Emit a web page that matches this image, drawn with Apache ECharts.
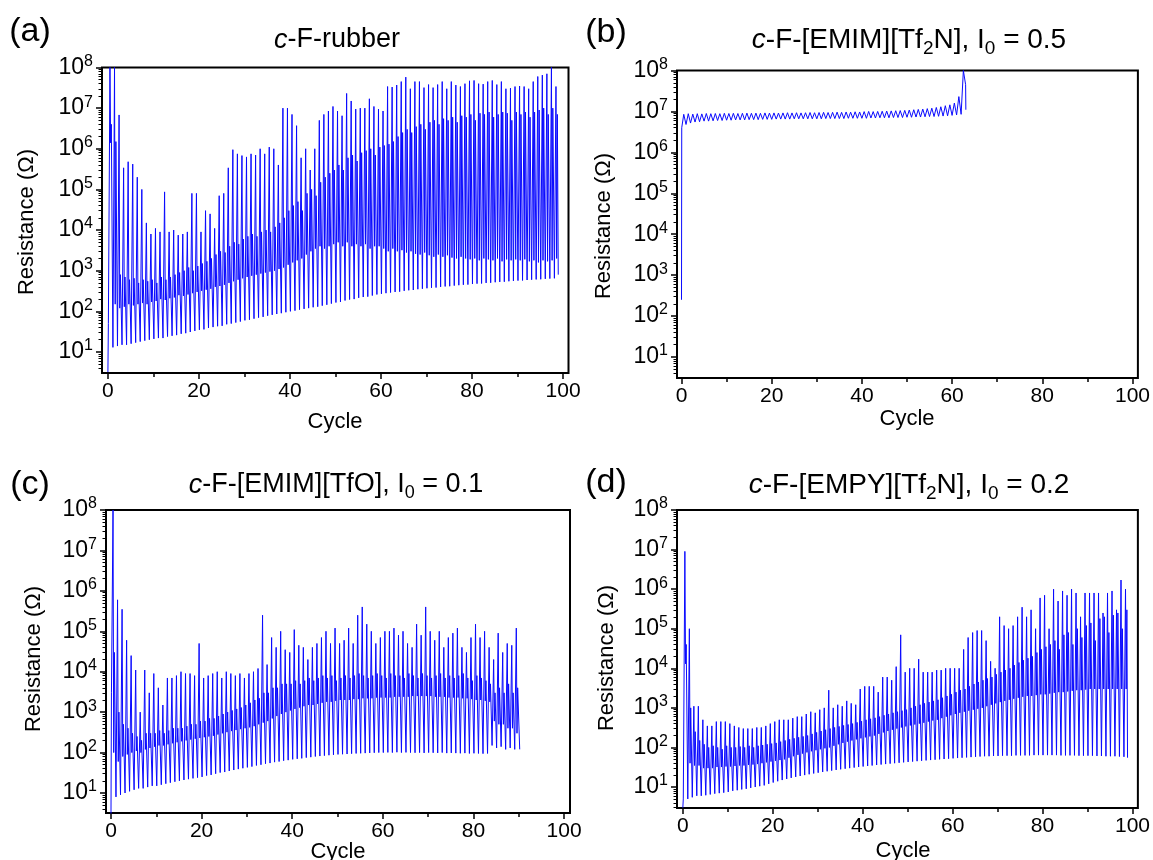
<!DOCTYPE html>
<html><head><meta charset="utf-8">
<script src="https://cdn.jsdelivr.net/npm/echarts@6/dist/echarts.min.js"></script>
<style>html,body{margin:0;padding:0;background:#fff}#c{width:1153px;height:860px}</style>
</head><body><div id="c"></div>
<script>
// ---------- tick labels ----------
const xTicks = [0, 20, 40, 60, 80, 100];
const xMinorTicks = [10, 30, 50, 70, 90];
const yTicks = [1e1, 1e2, 1e3, 1e4, 1e5, 1e6, 1e7, 1e8];

// ---------- panel (a) c-F-rubber : per-cycle values (Ohm) ----------
const aStart = [[0.0, 3.2]];
const aTrough = [50,13,14,15,15,16,17,18,19,20,
 21,22,22,24,25,26,28,29,31,33,
 35,36,39,41,43,44,48,50,53,56,
 60,62,66,70,73,78,82,86,90,95,
 100,104,110,115,120,126,130,138,145,155,
 165,170,185,195,200,215,225,230,245,260,
 270,280,290,300,305,320,330,335,350,360,
 370,380,385,400,410,415,430,440,450,455,
 470,480,485,500,505,520,530,535,550,560,
 570,575,590,600,610,615,630,640,650];
const aPeak = [1e8,1e8,6.8e6,3.4e5,4.8e5,4.2e5,2e5,1e5,1.5e4,8e3,
 1.1e4,9e3,8.7e4,9e3,1e4,7.5e3,8e3,9e3,8e4,8e4,
 9e3,3e4,2.5e4,1.1e4,7e4,8e4,3.4e5,9.5e5,7.5e5,6.8e5,
 6.3e5,7.5e5,7e5,1e6,7.5e5,1.1e6,1e6,4e5,1e7,1e7,
 7e6,3.7e6,6e5,1e6,3e5,1e6,5e6,7e6,8.5e6,1.1e7,
 8.5e6,6.5e6,2.3e7,1.5e7,9.5e6,1e7,1e7,1.7e7,1.1e7,9.5e6,
 8.5e6,3.4e7,3.3e7,3.7e7,4.5e7,5.8e7,3e7,4.5e7,4.5e7,3.2e7,
 3.8e7,3.2e7,3.8e7,4.5e7,3e7,4.5e7,3.7e7,3.4e7,4e7,4.7e7,
 4.8e7,4e7,3.9e7,4.5e7,4.8e7,3.8e7,4.5e7,3e7,3.1e7,3.4e7,
 3.5e7,3.4e7,3e7,4.5e7,6e7,6.5e7,7e7,1e8,3.4e7];
const aValley = [1.4e6,150,120,130,150,140,150,160,150,170,
 180,200,190,210,220,250,240,260,280,300,
 320,340,360,400,420,450,500,550,600,650,
 700,750,800,850,900,950,1e3,1.1e3,1.2e3,1.4e3,
 1.6e3,1.8e3,2e3,2.5e3,3e3,3.5e3,4e3,3.5e3,4e3,4.5e3,
 5e3,4e3,5e3,4e3,4.5e3,4e3,4.5e3,3.5e3,4e3,4e3,
 3.5e3,3e3,3.5e3,3e3,3.2e3,2.8e3,3e3,2.6e3,2.5e3,2.8e3,
 2.4e3,2.2e3,2.5e3,2.2e3,2.4e3,2.1e3,2e3,2.2e3,2e3,1.9e3,
 2e3,1.8e3,2e3,1.9e3,1.8e3,2e3,1.7e3,1.9e3,1.8e3,1.9e3,
 1.8e3,1.9e3,1.7e3,1.8e3,1.6e3,1.8e3,1.7e3,1.8e3,2e3];
const aShoulder = [4e6,1.5e6,800,700,600,650,500,600,550,600,
 500,700,600,700,800,900,1e3,1.2e3,1e3,1.3e3,
 1.5e3,1.7e3,2e3,2.5e3,3e3,2.8e3,4e3,5e3,4.5e3,6e3,
 7e3,8e3,7e3,9e3,1e4,9e3,1.2e4,1.5e4,2e4,3e4,
 4e4,5e4,3e4,8e4,1e5,7e4,1.5e5,2e5,2.5e5,3e5,
 4e5,3e5,6e5,7e5,5e5,8e5,9e5,1e6,7e5,1.1e6,
 1.2e6,1.3e6,1.5e6,2e6,2.5e6,3e6,2.5e6,3.5e6,4e6,3e6,
 4.5e6,5e6,4e6,5.5e6,5e6,6e6,4.5e6,6.5e6,6e6,7e6,
 5e6,7.5e6,7e6,8e6,6e6,7e6,8e6,7.5e6,5e6,8e6,
 7e6,8e6,6e6,8e6,9e6,1e7,7e6,1e7,7e6];
const aEnd = [[98.95, 800]];

// ---------- panel (b) c-F-[EMIM][Tf2N], I0 = 0.5 ----------
const bStart = [[0.0, 250], [0.05, 4e6]];
const bPeak = [8.5e6,8.8e6,8.6e6,8.8e6,8.7e6,8.9e6,8.8e6,8.9e6,8.8e6,9e6,
 8.9e6,9e6,8.9e6,9e6,9.1e6,9e6,9.1e6,9e6,9.2e6,9.1e6,
 9.2e6,9.1e6,9.2e6,9.3e6,9.2e6,9.3e6,9.2e6,9.3e6,9.4e6,9.3e6,
 9.4e6,9.5e6,9.4e6,9.5e6,9.6e6,9.5e6,9.7e6,9.6e6,9.8e6,9.7e6,
 9.9e6,1e7,9.9e6,1e7,1.01e7,1.02e7,1.03e7,1.04e7,1.05e7,1.06e7,
 1.08e7,1.1e7,1.12e7,1.14e7,1.17e7,1.2e7,1.25e7,1.3e7,1.38e7,1.45e7,
 1.6e7,2.3e7,1e8];
const bTrough = [4.8e6,5.2e6,5.5e6,5.6e6,5.8e6,5.8e6,5.9e6,6e6,6e6,6.1e6,
 6.1e6,6.2e6,6.2e6,6.2e6,6.3e6,6.3e6,6.3e6,6.4e6,6.4e6,6.4e6,
 6.5e6,6.5e6,6.5e6,6.5e6,6.6e6,6.6e6,6.6e6,6.6e6,6.6e6,6.6e6,
 6.6e6,6.7e6,6.7e6,6.7e6,6.7e6,6.7e6,6.8e6,6.8e6,6.8e6,6.8e6,
 6.8e6,6.9e6,6.9e6,7e6,7e6,7e6,7.1e6,7.1e6,7.1e6,7.2e6,
 7.2e6,7.3e6,7.3e6,7.4e6,7.5e6,7.5e6,7.6e6,7.7e6,7.8e6,8e6,
 8.2e6,8.5e6,4.5e7];
const bEnd = [[63.05, 1.1e7]];

// ---------- panel (c) c-F-[EMIM][TfO], I0 = 0.1 ----------
const cStart = [[0.0, 3]];
const cTrough = [3e3,8,9,10,11,12,13,13,14,15,
 15,16,17,18,19,20,21,22,23,24,
 25,27,28,30,32,33,35,37,39,41,
 43,45,48,50,53,55,58,60,63,65,
 68,70,72,75,77,80,82,84,86,88,
 90,91,92,94,95,96,97,98,99,100,
 100,101,100,102,100,101,100,99,100,98,
 100,99,98,100,97,98,97,96,97,95,
 96,95,94,95,150,130,140,120,130,120];
const cPeak = [1e8,6e5,3.5e5,6e4,2.5e4,1.1e4,1e3,1.1e4,3e3,9e3,
 4e3,1.5e3,7e3,7e3,8e3,1e4,9e3,9e3,8e3,5e4,
 7e3,8e3,9e3,1e4,7e3,1e4,9e3,8e3,9e3,7e3,
 9e3,1e4,1.2e4,2.5e5,1.5e4,7e4,4e4,1e5,3.5e4,3e4,
 1.1e5,4.5e4,4e4,2e4,4e4,5e4,7e4,1e5,5e4,1.2e5,
 5e4,6e4,1.2e5,5e4,2.5e5,4e5,1.5e5,1e5,5e4,7e4,
 1e5,1e5,1.2e5,8e4,1e5,5e4,4e4,1.5e5,8e4,4e5,
 1e5,6e4,1e5,4e4,7e4,9e4,1.2e5,4e4,3e4,7e4,
 1.5e5,7e4,1e5,4e4,2e4,9e4,3e4,5e4,4.5e4,1.2e5];
const cValley = [100,60,80,90,100,110,100,120,130,140,
 150,150,160,170,180,190,200,210,220,230,
 240,250,260,280,300,320,340,360,380,400,
 420,450,500,550,600,700,800,900,1e3,1.1e3,
 1.2e3,1.3e3,1.4e3,1.5e3,1.5e3,1.6e3,1.7e3,1.8e3,1.8e3,1.9e3,
 2e3,2e3,2e3,2.1e3,2.1e3,2.2e3,2.2e3,2.2e3,2.3e3,2.3e3,
 2.3e3,2.3e3,2.4e3,2.4e3,2.4e3,2.4e3,2.5e3,2.5e3,2.5e3,2.5e3,
 2.5e3,2.4e3,2.4e3,2.4e3,2.3e3,2.3e3,2.3e3,2.2e3,2.2e3,2.1e3,
 2e3,2e3,1.9e3,1.8e3,600,500,500,400,400,300];
const cShoulder = [3e4,1e3,500,400,300,250,200,300,300,300,
 350,300,350,400,400,400,450,500,500,600,
 600,700,700,800,900,1e3,1.1e3,1.2e3,1.3e3,1.5e3,
 1.7e3,2e3,2.2e3,3e3,3e3,4e3,4e3,5e3,5e3,5e3,
 6e3,5e3,6e3,7e3,6e3,7e3,8e3,7e3,8e3,6e3,
 7e3,8e3,7e3,8e3,9e3,8e3,7e3,8e3,9e3,8e3,
 7e3,9e3,8e3,8e3,7e3,9e3,8e3,7e3,9e3,8e3,
 7e3,8e3,9e3,7e3,8e3,7e3,8e3,9e3,7e3,6e3,
 8e3,7e3,6e3,5e3,3e3,4e3,3e3,5e3,3e3,4e3];
const cEnd = [[90.2, 120]];

// ---------- panel (d) c-F-[EMPY][Tf2N], I0 = 0.2 ----------
const dStart = [[0.0, 3]];
const dTrough = [5,5,5.5,6,6,6.2,6.5,6.8,7,7.2,
 7.5,8,8.3,8.7,9,9.5,10,10.5,11,12,
 13,14,15,16,17,18,19,20,21,22,
 23,24,25,26,27,28,29,30,31,32,
 33,34,35,36,37,38,39,40,41,42,
 43,44,45,46,47,48,49,50,51,52,
 53,54,55,56,57,58,59,60,60,61,
 61,62,62,62,63,63,63,63,64,64,
 64,64,64,64,63,63,63,63,62,62,
 62,62,61,61,60,60,60,59,58];
const dPeak = [9e6,1e5,1.1e3,1.1e3,500,350,350,450,450,450,
 400,350,320,300,300,300,320,320,350,400,
 450,500,500,500,550,600,600,700,800,750,
 900,1e3,2.8e3,1e3,1.2e3,1.1e3,1.5e3,1.3e3,1.2e3,3e3,
 3.5e3,3.5e3,3.5e3,2.5e3,6e3,6e3,5e3,1.1e4,7e4,8e3,
 1e4,1e4,1.7e4,8e3,8e3,8e3,9e3,9e3,1e4,1e4,
 1e4,1e4,3e4,6e4,8e4,9e4,9e4,5e4,1.5e4,1e4,
 2e5,1.2e5,1e5,1.2e5,2e5,3.5e5,2e5,3e5,1e5,6e5,
 7e5,1e5,1e6,5e5,9e5,7e5,1e6,8e5,2e5,8e5,
 8e5,8e5,8e5,2.5e5,8e5,9e5,3e5,1.7e6,1e6];
const dValley = [1.3e4,40,35,35,30,30,30,32,32,33,
 33,34,35,35,36,37,38,40,42,44,
 46,48,50,55,60,65,70,75,80,85,
 90,95,100,110,120,130,140,150,160,170,
 180,190,200,220,240,260,280,300,320,340,
 360,380,400,420,450,480,500,550,600,650,
 700,750,800,850,900,950,1e3,1.1e3,1.2e3,1.3e3,
 1.4e3,1.5e3,1.6e3,1.7e3,1.8e3,1.9e3,2e3,2e3,2.1e3,2.2e3,
 2.2e3,2.3e3,2.4e3,2.5e3,2.5e3,2.6e3,2.7e3,2.8e3,2.8e3,2.9e3,
 3e3,3e3,3e3,3e3,3e3,3e3,3e3,3e3,3e3];
const dShoulder = [4e4,1e3,250,150,120,100,110,100,90,110,
 100,100,105,100,110,100,110,115,120,125,
 130,140,150,160,170,180,190,200,220,240,
 260,280,300,320,340,360,380,400,430,460,
 500,530,560,600,650,700,750,800,850,900,
 1e3,1.1e3,1.2e3,1.3e3,1.4e3,1.5e3,1.6e3,1.8e3,2e3,2.2e3,
 2.5e3,2.8e3,3e3,3.5e3,4e3,4.5e3,5e3,5.5e3,6e3,7e3,
 8e3,9e3,1e4,1.2e4,1.4e4,1.6e4,1.8e4,2e4,2.5e4,3e4,
 3.5e4,4e4,5e4,3e4,7e4,8e4,4e4,1e5,6e4,1.2e5,
 1.4e5,5e4,1.8e5,2e5,8e4,2.2e5,2.5e5,1e5,3e5];
const dEnd = [[98.9, 55]];

// ---------- build per-cycle waveforms ----------
function buildCycles(start, trough, peak, valley, shoulder, end) {
  const pts = start.slice();
  for (let i = 0; i < peak.length; i++) {
    pts.push([i + 0.1, trough[i]]);
    pts.push([i + 0.45, peak[i]]);
    pts.push([i + 0.6, valley[i]]);
    pts.push([i + 0.75, shoulder[i]]);
  }
  return pts.concat(end);
}
function buildSimple(start, peak, trough, end) {
  const pts = start.slice();
  for (let i = 0; i < peak.length; i++) {
    pts.push([i + 0.5, peak[i]]);
    pts.push([i + 1.0, trough[i]]);
  }
  return pts.concat(end);
}
const seriesData = [
  buildCycles(aStart, aTrough, aPeak, aValley, aShoulder, aEnd),
  buildSimple(bStart, bPeak, bTrough, bEnd),
  buildCycles(cStart, cTrough, cPeak, cValley, cShoulder, cEnd),
  buildCycles(dStart, dTrough, dPeak, dValley, dShoulder, dEnd)
];

// log minor ticks (2..9 x 10^n)
const yMinorTicks = [];
for (let e = 0; e < 8; e++) for (let m = 2; m <= 9; m++) {
  const v = m * Math.pow(10, e);
  if (v >= 3 && v < 1e8) yMinorTicks.push(v);
}

// ---------- layout ----------
const FONT = '"Liberation Sans", Arial, sans-serif';
const panels = [
  {grid: {left: 102, top: 67.5, width: 466.5, height: 305.5}, xMin: -1.3, xMax: 101.2, yMin: 3.04},
  {grid: {left: 677, top: 70.5, width: 461, height: 307.5}, xMin: -1.0, xMax: 101.2, yMin: 3.07},
  {grid: {left: 106, top: 510, width: 464, height: 303}, xMin: -1.1, xMax: 101.3, yMin: 3.2},
  {grid: {left: 677, top: 510, width: 461.5, height: 298}, xMin: -1.3, xMax: 101.2, yMin: 2.95}
];
const titles = [
  {x: 337, y: 40, size: 27, text: '{i|c}-F-rubber'},
  {x: 909, y: 40, size: 28, text: '{i|c}-F-[EMIM][Tf{s|2}N], I{s|0} = 0.5'},
  {x: 336, y: 485, size: 27, text: '{i|c}-F-[EMIM][TfO], I{s|0} = 0.1'},
  {x: 909, y: 485, size: 28, text: '{i|c}-F-[EMPY][Tf{s|2}N], I{s|0} = 0.2'}
];
const tags = [
  {x: 30, y: 32, text: '(a)'}, {x: 606, y: 33, text: '(b)'},
  {x: 30, y: 485, text: '(c)'}, {x: 606, y: 483, text: '(d)'}
];
const xNames = [{x: 335, y: 422}, {x: 907, y: 419}, {x: 338, y: 852}, {x: 903, y: 851}];
const yNames = [{x: 27, y: 222}, {x: 604, y: 226}, {x: 34, y: 659}, {x: 607, y: 658}];

const grids = [], xAxes = [], yAxes = [], series = [], graphics = [];
panels.forEach((p, i) => {
  grids.push(Object.assign({show: true, borderColor: '#000', borderWidth: 2, backgroundColor: 'transparent'}, p.grid));
  const baseX = {
    type: 'value', gridIndex: i, min: p.xMin, max: p.xMax, position: 'bottom',
    axisLine: {show: false, onZero: false}, splitLine: {show: false}
  };
  xAxes.push(Object.assign({}, baseX, {
    axisTick: {show: true, inside: false, length: 6, customValues: xTicks, lineStyle: {color: '#000', width: 1.5}},
    axisLabel: {show: true, customValues: xTicks, margin: 8, color: '#000', fontSize: 21, fontFamily: FONT}
  }));
  xAxes.push(Object.assign({}, baseX, {
    axisTick: {show: true, inside: false, length: 4, customValues: xMinorTicks, lineStyle: {color: '#000', width: 1.5}},
    axisLabel: {show: false}
  }));
  const baseY = {
    type: 'log', logBase: 10, gridIndex: i, min: p.yMin, max: 1e8, position: 'left',
    axisLine: {show: false, onZero: false}, splitLine: {show: false}
  };
  yAxes.push(Object.assign({}, baseY, {
    axisTick: {show: true, inside: false, length: 6, customValues: yTicks, lineStyle: {color: '#000', width: 1.5}},
    axisLabel: {
      show: true, customValues: yTicks, margin: 9, color: '#000', fontFamily: FONT, fontSize: 23,
      formatter: v => '{b|10}{s|' + Math.round(Math.log10(v)) + '}',
      rich: {
        b: {fontSize: 23, lineHeight: 28, fontFamily: FONT, color: '#000'},
        s: {fontSize: 16, lineHeight: 16, verticalAlign: 'top', fontFamily: FONT, color: '#000'}
      }
    }
  }));
  yAxes.push(Object.assign({}, baseY, {
    axisTick: {show: true, inside: false, length: 3.5, customValues: yMinorTicks, lineStyle: {color: '#000', width: 1}},
    axisLabel: {show: false}
  }));
  series.push({
    type: 'line', xAxisIndex: 2 * i, yAxisIndex: 2 * i, data: seriesData[i],
    symbol: 'none', clip: true, silent: true, animation: false,
    lineStyle: {color: '#0a0aff', width: 1}
  });
  const ts = titles[i].size;
  graphics.push({
    type: 'text', x: titles[i].x, y: titles[i].y,
    style: {
      text: titles[i].text, align: 'center', verticalAlign: 'middle', fill: '#000',
      fontSize: ts, fontFamily: FONT, lineHeight: ts + 8,
      rich: {
        i: {fontSize: ts, fontStyle: 'italic', fontFamily: FONT, lineHeight: ts + 8},
        s: {fontSize: Math.round(ts * 0.68), fontFamily: FONT, lineHeight: Math.round(ts * 0.68), verticalAlign: 'bottom'}
      }
    }
  });
  graphics.push({
    type: 'text', x: tags[i].x, y: tags[i].y,
    style: {text: tags[i].text, align: 'center', verticalAlign: 'middle', fill: '#000', fontSize: 34, fontFamily: FONT}
  });
  graphics.push({
    type: 'text', x: xNames[i].x, y: xNames[i].y,
    style: {text: 'Cycle', align: 'center', verticalAlign: 'middle', fill: '#000', fontSize: 22, fontFamily: FONT}
  });
  graphics.push({
    type: 'text', x: yNames[i].x, y: yNames[i].y, rotation: Math.PI / 2,
    style: {text: 'Resistance (\u03A9)', align: 'center', verticalAlign: 'middle', fill: '#000', fontSize: 22, fontFamily: FONT}
  });
});

const chart = echarts.init(document.getElementById('c'), null, {renderer: 'canvas'});
chart.setOption({
  backgroundColor: '#fff',
  animation: false,
  grid: grids, xAxis: xAxes, yAxis: yAxes, series: series, graphic: graphics
});
</script>
</body></html>
